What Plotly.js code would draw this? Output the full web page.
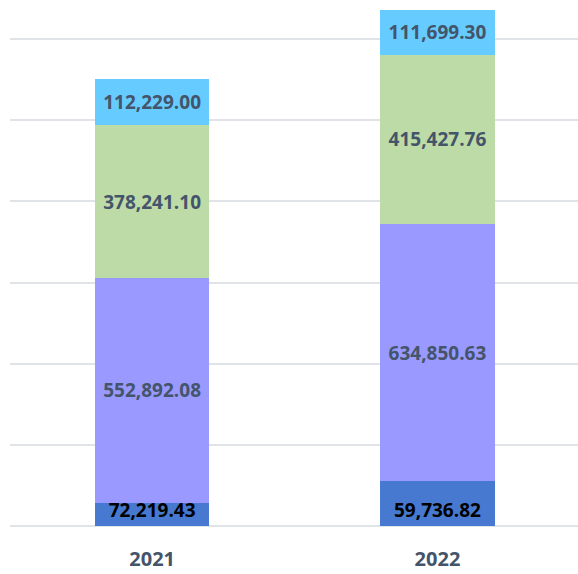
<!DOCTYPE html>
<html>
<head>
<meta charset="utf-8">
<script src="https://cdn.plot.ly/plotly-3.0.1.min.js"></script>
<style>html,body{margin:0;padding:0;background:#fff;}#chart{width:578px;height:574px;}</style>
</head>
<body>
<div id="chart"></div>
<script>
// Categories
const years = ['2021', '2022'];

// Series values (bottom to top)
const blueValues   = [57500, 110000];
const blueLabels   = ['72,219.43', '59,736.82']; // labels as printed
const purpleValues = [552892.08, 634850.63];
const greenValues  = [378241.10, 415427.76];
const cyanValues   = [112229.00, 111699.30];

const FONT = '"Open Sans", Lato, sans-serif';
const labelFont = {family: FONT, size: 19, weight: 700, color: '#44546A'};

function seg(values, color, extra) {
  return Object.assign({
    type: 'bar',
    x: years,
    y: values,
    marker: {color: color, line: {width: 0}},
    texttemplate: '%{y:,.2f}',
    textposition: 'inside',
    insidetextanchor: 'middle',
    constraintext: 'none',
    textangle: 0,
    textfont: labelFont,
    hoverinfo: 'skip',
    showlegend: false
  }, extra || {});
}

const data = [
  seg(blueValues, '#4679CF', {
    text: blueLabels,
    texttemplate: '%{text}',
    insidetextanchor: 'start',
    textfont: Object.assign({}, labelFont, {color: '#000000'})
  }),
  seg(purpleValues, '#9999FF'),
  seg(greenValues, '#BCDBA6'),
  seg(cyanValues, '#66CCFF')
];

const layout = {
  width: 578,
  height: 574,
  margin: {l: 10, r: 0, t: 0, b: 48},
  paper_bgcolor: '#FFFFFF',
  plot_bgcolor: '#FFFFFF',
  barmode: 'stack',
  bargap: 0.6,
  xaxis: {
    type: 'category',
    range: [-0.4984, 1.4925],
    showgrid: false,
    zeroline: false,
    showline: false,
    ticks: 'outside',
    ticklen: 15,
    tickcolor: 'rgba(0,0,0,0)',
    tickfont: {family: FONT, size: 20, weight: 700, color: '#44546A'}
  },
  yaxis: {
    range: [0, 1296100],
    dtick: 200000,
    showticklabels: false,
    showgrid: true,
    gridcolor: '#E0E3E7',
    gridwidth: 2,
    zeroline: true,
    zerolinecolor: '#E0E3E7',
    zerolinewidth: 2,
    showline: false,
    ticks: ''
  }
};

Plotly.newPlot('chart', data, layout, {staticPlot: true, displayModeBar: false});
</script>
</body>
</html>
